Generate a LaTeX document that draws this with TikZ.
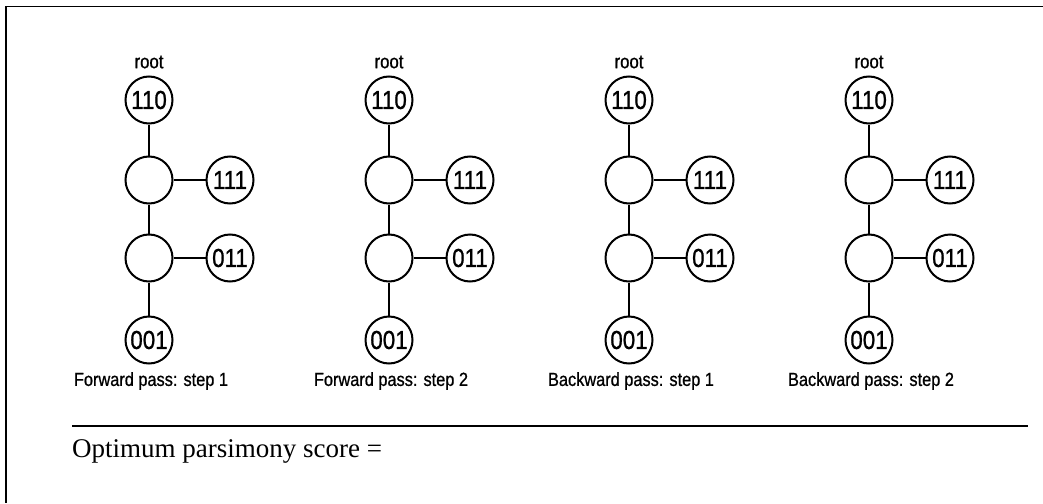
\documentclass[tikz,border=0pt]{standalone}
\usepackage{fontspec}
\setmainfont{Liberation Serif}
\newfontfamily\narrowsans[FakeStretch=0.86,FakeBold=0.8]{Liberation Sans}
\begin{document}
\begin{tikzpicture}[x=1pt,y=-1pt,
  treenode/.style={circle,draw,line width=2pt,minimum size=47pt,inner sep=0pt,
    font=\narrowsans\fontsize{26}{26}\selectfont},
  edge/.style={line width=2pt},
  rootlabel/.style={font=\narrowsans\fontsize{19.5}{19.5}\selectfont},
  steplabel/.style={font=\narrowsans\fontsize{19}{19}\selectfont},
  frame/.style={line width=1.5pt}]
\useasboundingbox (0,0) rectangle (1043,503);
\draw[frame] (1043,6.5) -- (6,6.5) -- (6,503);
\foreach \i/\x/\lab in {1/149/Forward pass: step 1,2/389/Forward pass: step 2,3/629/Backward pass: step 1,4/869/Backward pass: step 2}{
  \node[rootlabel] (root\i) at (\x,62) {root};
  \node[treenode] (t\i) at (\x,100) {110};
  \node[treenode] (a\i) at (\x,180) {};
  \node[treenode] (p\i) at (\x+81,180) {111};
  \node[treenode] (b\i) at (\x,258) {};
  \node[treenode] (q\i) at (\x+81,258) {011};
  \node[treenode] (l\i) at (\x,340) {001};
  \node[steplabel] (s\i) at (\x+2,381) {\lab};
  \draw[edge] (t\i) -- (a\i);
  \draw[edge] (a\i) -- (p\i);
  \draw[edge] (a\i) -- (b\i);
  \draw[edge] (b\i) -- (q\i);
  \draw[edge] (b\i) -- (l\i);
}
\coordinate (ruleL) at (72,426);
\coordinate (ruleR) at (1028,426);
\draw[frame] (ruleL) -- (ruleR);
\node[anchor=base west,inner sep=0pt,font=\fontsize{27}{27}\selectfont] (score) at (72,457) {Optimum parsimony score =};
\end{tikzpicture}
\end{document}
